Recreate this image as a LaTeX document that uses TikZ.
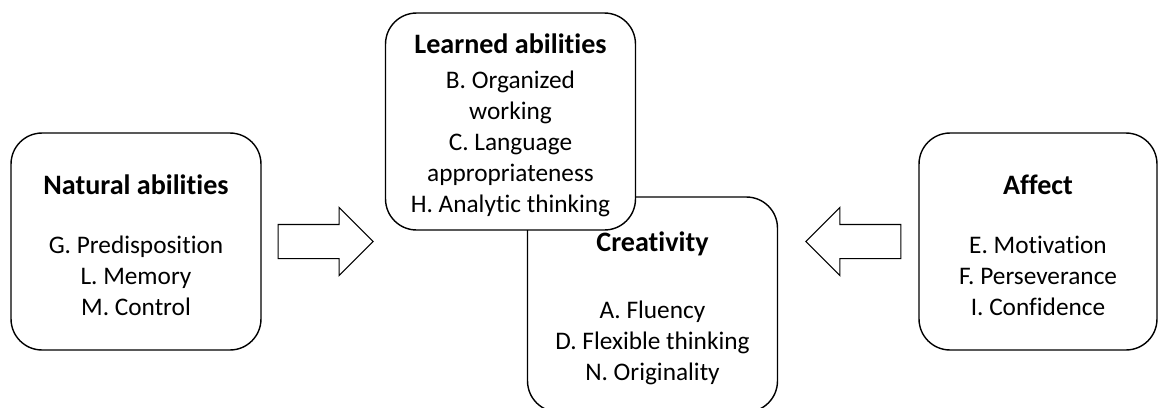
\documentclass[tikz,border=0pt]{standalone}
\usepackage{fontspec}
\setmainfont[Ligatures=NoCommon]{Carlito}
\usetikzlibrary{positioning,shapes.arrows}

\newcommand{\boxtitle}[1]{{\fontsize{16}{19}\selectfont\bfseries\rule{0pt}{15.5pt}#1}}

\begin{document}
\begin{tikzpicture}[x=0.02cm, y=-0.02cm, node distance=0.32cm,
   box/.style={draw, line width=0.8pt, rounded corners=0.62cm, fill=white, align=center,
      minimum width=5cm, minimum height=4.34cm, inner sep=0pt,
      font=\fontsize{14.4}{17.6}\selectfont},
   blockarrow/.style={draw, single arrow, line width=0.6pt, minimum height=1.9cm,
      inner xsep=0pt, inner ysep=0.33cm, single arrow head extend=0.34cm,
      single arrow tip angle=90}]
   \useasboundingbox (0,0) rectangle (1160,407);

   \node[box] (nat) at (136,241.5) {\boxtitle{Natural abilities}\\[16pt]
      G. Predisposition\\ L. Memory\\ M. Control};
   \node[box, minimum height=4.3cm] (cre) at (652.5,304.5) {\boxtitle{Creativity}\\[21pt]
      A. Fluency\\ D. Flexible thinking\\ N. Originality};
   \node[box] (lea) at (510.5,121.5) {\boxtitle{Learned abilities}\\[2pt]
      B. Organized\\ working\\ C. Language\\ appropriateness\\ H. Analytic thinking};
   \node[box, minimum width=4.76cm] (aff) at (1038,241.5) {\boxtitle{Affect}\\[16pt]
      E. Motivation\\ F. Perseverance\\ I. Confidence};

   \node[blockarrow, right=of nat] (natarrow) {};
   \node[blockarrow, shape border rotate=180, left=0.34cm of aff] (affarrow) {};
\end{tikzpicture}
\end{document}
